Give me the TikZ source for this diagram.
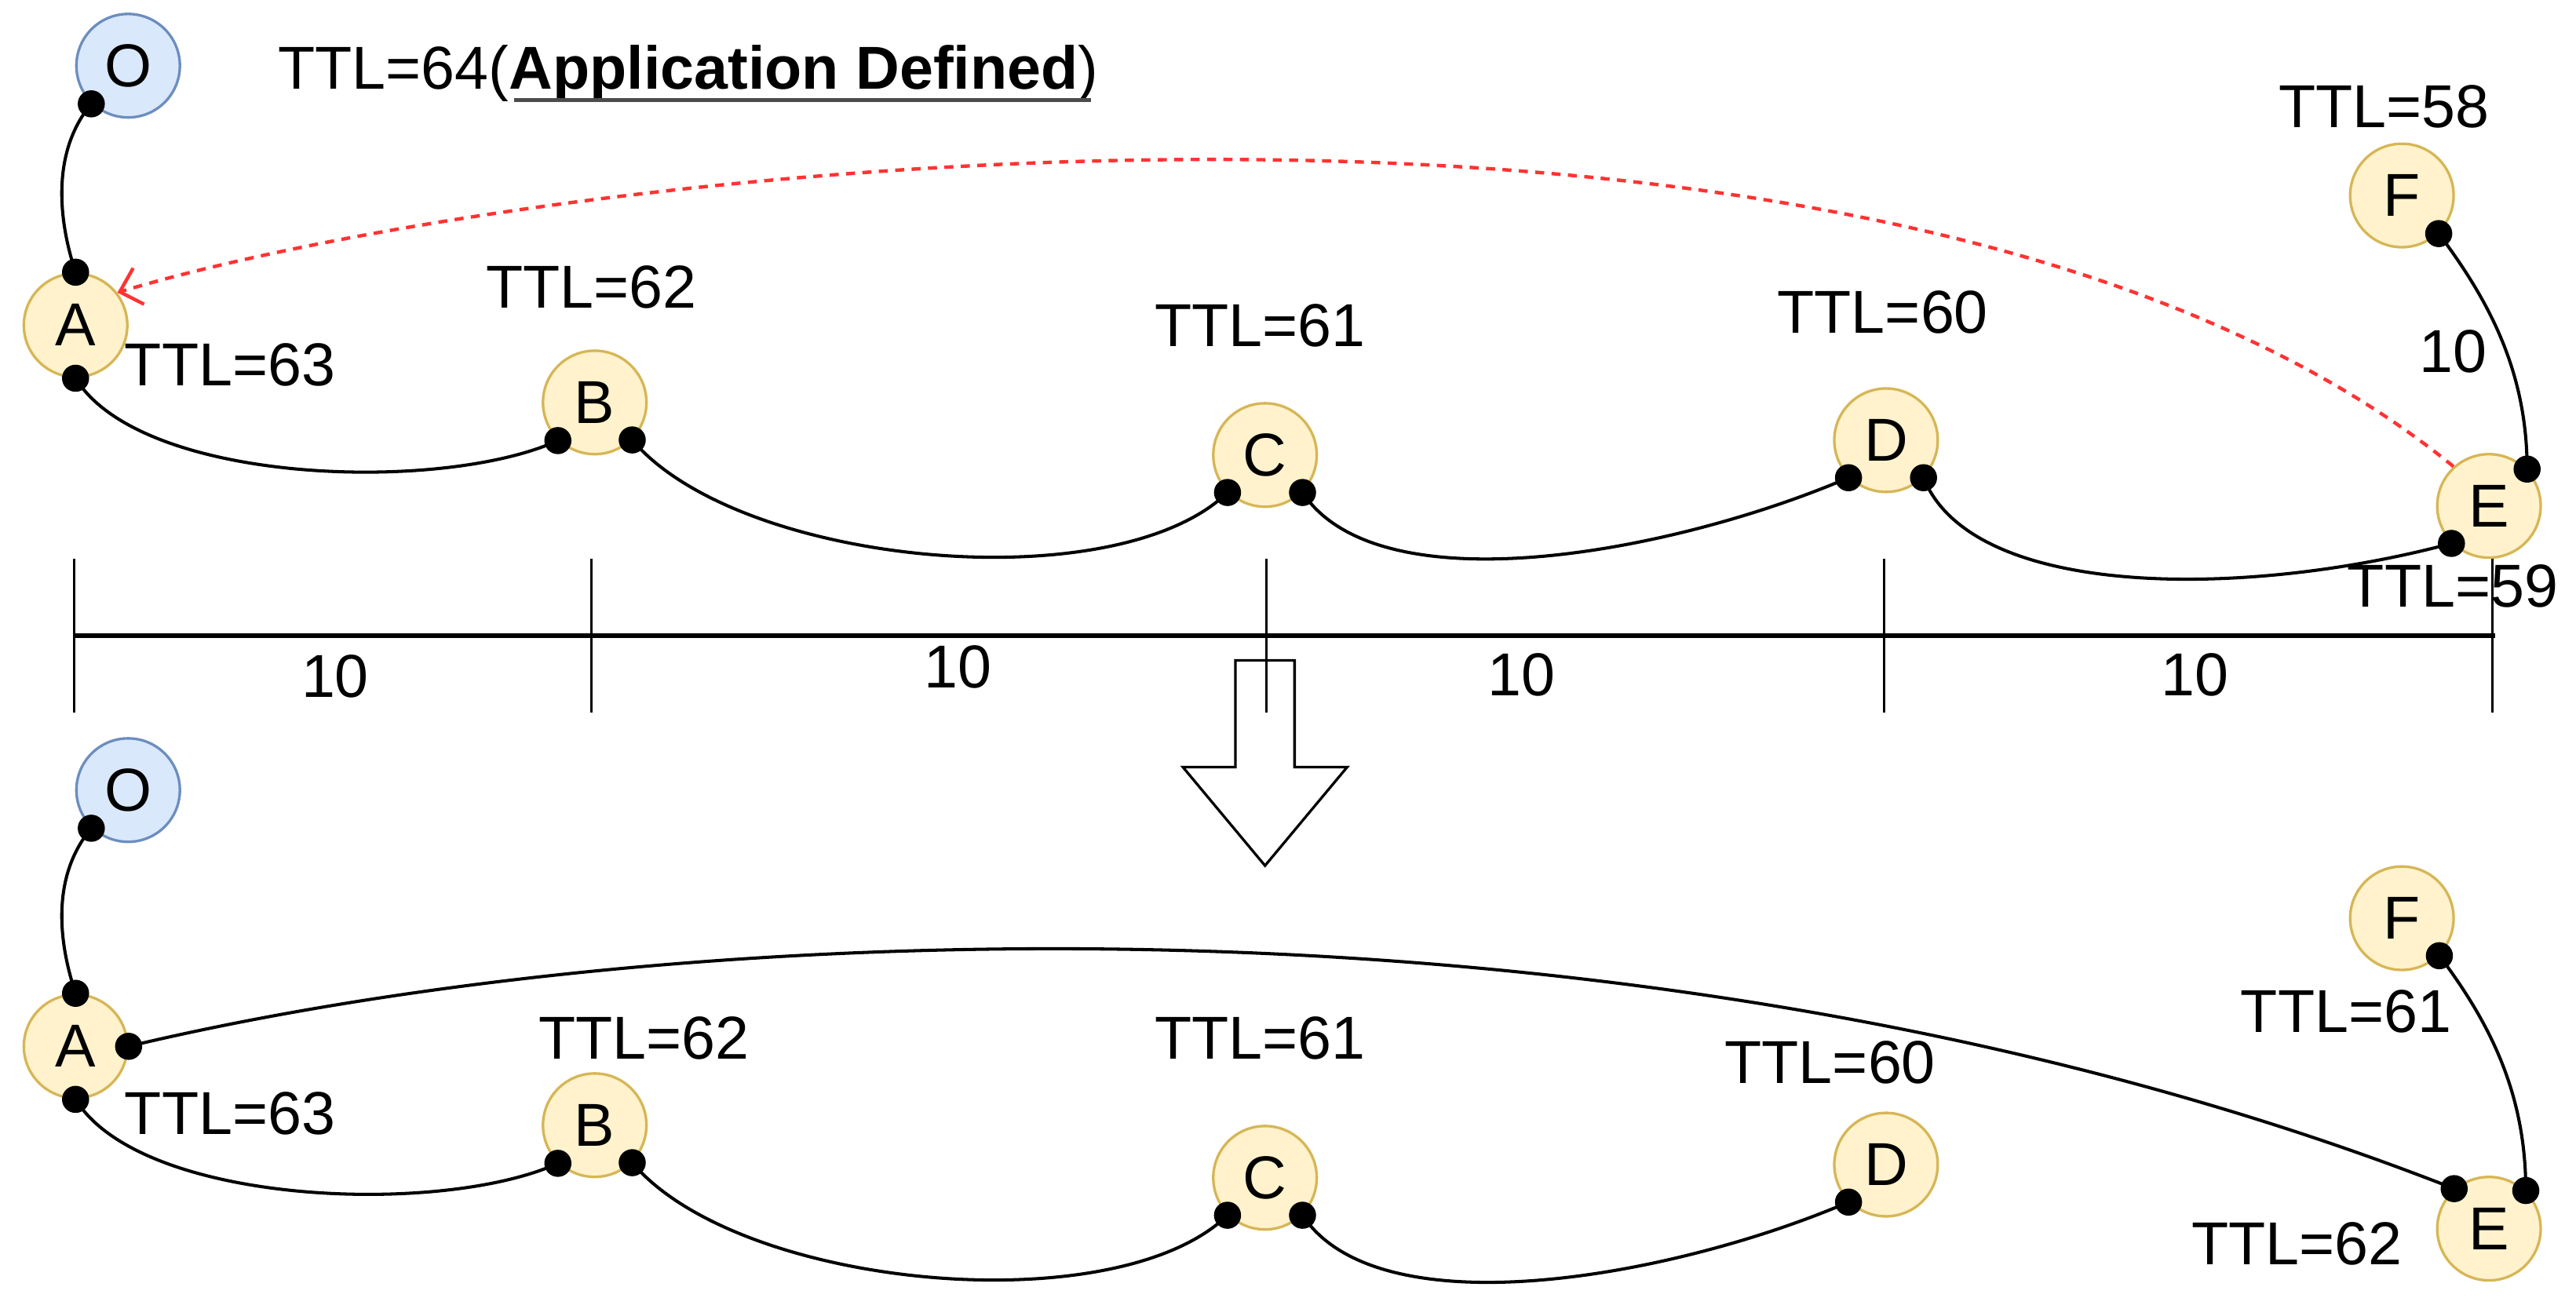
\documentclass[tikz,border=0pt]{standalone}
\usepackage{fontspec}
\setmainfont{Liberation Sans}
\usetikzlibrary{arrows.meta}
\definecolor{yfill}{HTML}{FFF2CC}
\definecolor{ydraw}{HTML}{D6B656}
\definecolor{bfill}{HTML}{DAE8FC}
\definecolor{bdraw}{HTML}{6C8EBF}
\definecolor{redd}{HTML}{FF3333}
\begin{document}
\begin{tikzpicture}[x=0.02cm, y=-0.02cm,
  ynode/.style={circle, draw=ydraw, fill=yfill, line width=0.9pt, minimum size=1.26cm, inner sep=0pt, font=\fontsize{21}{24}\selectfont},
  bnode/.style={ynode, draw=bdraw, fill=bfill},
  lbl/.style={font=\fontsize{21}{24}\selectfont, inner sep=0pt},
  link/.style={line width=1.1pt, black},
  redlink/.style={line width=1.2pt, redd, dash pattern=on 0.11cm off 0.09cm, -{Straight Barb[length=2.4mm, width=4.6mm]}},
  tickline/.style={line width=0.9pt},
  cdot/.style={fill=black}]
\useasboundingbox (0,0) rectangle (1568,790);

% ---------- top diagram ----------
\node[bnode] (O1) at (78,40) {O};
\node[ynode] (A1) at (46,198) {A};
\node[ynode] (B1) at (362,245) {B};
\node[ynode] (C1) at (770,277) {C};
\node[ynode] (D1) at (1148,268) {D};
\node[ynode] (E1) at (1515,308) {E};
\node[ynode] (F1) at (1462,119) {F};

\node[lbl, anchor=base west] (t64) at (169,54) {TTL=64(\textbf{Application Defined})};
\draw[line width=1.5pt, black!70] (313,61) -- (664,61);
\node[lbl] (t62a) at (360,175) {TTL=62};
\node[lbl] (t63a) at (140,222) {TTL=63};
\node[lbl] (t61a) at (767,198) {TTL=61};
\node[lbl] (t60a) at (1146,190) {TTL=60};
\node[lbl] (t58a) at (1451,65) {TTL=58};
\node[lbl] (t10f) at (1493,214) {10};
\node[lbl] (t59a) at (1493,357) {TTL=59};

\draw[link] (O1.226) .. controls +(-25,30) and +(-10,-30) .. (A1.north);
\draw[link] (A1.south) .. controls +(40,65) and +(-70,32) .. (B1.226);
\draw[link] (B1.315) .. controls +(65,77) and +(-68,66) .. (C1.225);
\draw[link] (C1.315) .. controls +(47,71) and +(-105,45) .. (D1.225);
\draw[link] (D1.315) .. controls +(30,75) and +(-123,33) .. (E1.225);
\draw[link] (F1.314) .. controls +(30,40) and +(0,-60) .. (E1.44);
\draw[redlink] (E1.132) .. controls +(-343,-280) and +(255,-77) .. (A1.38);

\foreach \p in {O1.226, A1.north, A1.south, B1.226, B1.315, C1.225, C1.315, D1.225, D1.315, E1.225, E1.44, F1.314}
  \fill[cdot] (\p) circle[radius=0.165cm];

% ---------- scale and arrow ----------
\draw[line width=0.9pt, fill=white] (752,402) -- (788,402) -- (788,467) -- (820,467) -- (770,527) -- (720,467) -- (752,467) -- cycle;
\draw[line width=1.6pt] (45,387) -- (1519,387);
\foreach \x in {45,360,771,1147,1517}
  \draw[tickline] (\x,340) -- (\x,434);
\node[lbl] (s1) at (204,412) {10};
\node[lbl] (s2) at (583,406) {10};
\node[lbl] (s3) at (926,411) {10};
\node[lbl] (s4) at (1336,411) {10};

% ---------- bottom diagram ----------
\node[bnode] (O2) at (78,481) {O};
\node[ynode] (A2) at (46,637) {A};
\node[ynode] (B2) at (362,685) {B};
\node[ynode] (C2) at (770,717) {C};
\node[ynode] (D2) at (1148,709) {D};
\node[ynode] (E2) at (1515,748) {E};
\node[ynode] (F2) at (1462,559) {F};

\node[lbl] (t63b) at (140,678) {TTL=63};
\node[lbl] (t62b) at (392,632) {TTL=62};
\node[lbl] (t61b) at (767,632) {TTL=61};
\node[lbl] (t60b) at (1114,647) {TTL=60};
\node[lbl] (t61c) at (1428,616) {TTL=61};
\node[lbl] (t62c) at (1398,757) {TTL=62};

\draw[link] (O2.226) .. controls +(-25,30) and +(-10,-30) .. (A2.north);
\draw[link] (A2.south) .. controls +(40,65) and +(-70,32) .. (B2.226);
\draw[link] (B2.315) .. controls +(65,77) and +(-68,66) .. (C2.225);
\draw[link] (C2.315) .. controls +(47,71) and +(-105,45) .. (D2.225);
\draw[link] (A2.east) .. controls +(322,-77) and +(-494,-194) .. (E2.131);
\draw[link] (F2.315) .. controls +(30,40) and +(0,-60) .. (E2.46);

\foreach \p in {O2.226, A2.north, A2.south, A2.east, B2.226, B2.315, C2.225, C2.315, D2.225, E2.131, E2.46, F2.315}
  \fill[cdot] (\p) circle[radius=0.165cm];
\end{tikzpicture}
\end{document}
